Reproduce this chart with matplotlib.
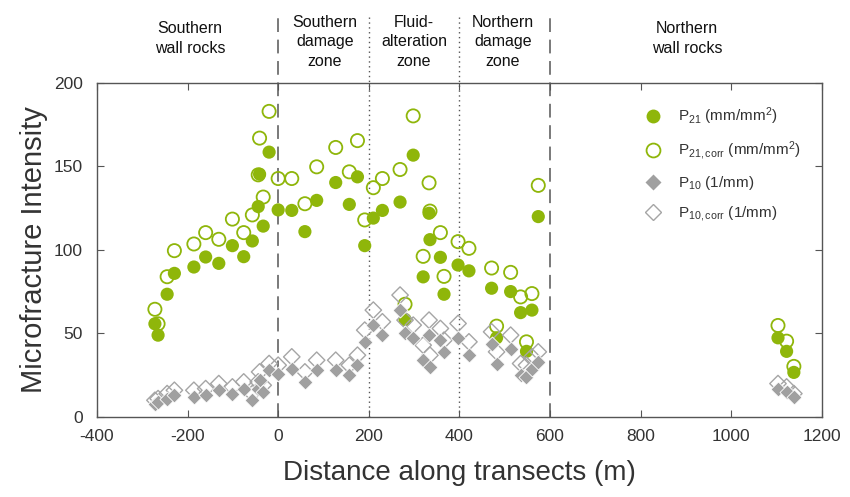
import numpy as np
import matplotlib.pyplot as plt
import matplotlib.transforms as mtransforms
from matplotlib.lines import Line2D

plt.rcParams['font.family'] = ['Liberation Sans', 'DejaVu Sans']
plt.rcParams['mathtext.fontset'] = 'custom'
plt.rcParams['mathtext.rm'] = 'Liberation Sans'
plt.rcParams['mathtext.it'] = 'Liberation Sans'
plt.rcParams['axes.unicode_minus'] = False

# distance of each sample along the transects (m)
distance = [-272, -265, -245, -229, -186, -160, -131, -101, -76, -57, -44, -41, -33, -20, 0,
            30, 59, 85, 127, 157, 175, 191, 210, 230, 269, 280, 298, 320, 333, 335, 358, 366, 397, 421,
            471, 482, 513, 535, 548, 560, 574,
            1103, 1122, 1138]

p21 = [55.8, 49, 73.5, 86, 89.8, 95.8, 92, 102.6, 96, 105.4, 126, 145.4, 114.3, 158.6, 124,
       123.7, 111, 129.7, 140.4, 127.3, 143.8, 102.6, 119.1, 123.7, 128.7, 58.4, 156.8, 83.9, 122, 106.2, 95.6, 73.5, 91, 87.5,
       77.1, 47.4, 75.1, 62.5, 39.3, 64, 120,
       47.4, 39.3, 26.7]

p21_corr = [64.5, 55.8, 84, 99.6, 103.6, 110.4, 106.4, 118.5, 110.4, 121, 145, 167, 131.7, 183, 142.8,
            142.8, 127.7, 149.8, 161.4, 146.8, 165.5, 118, 137.3, 142.8, 148.2, 67.5, 180.3, 96.2, 140.2, 123.3, 110.4, 84.2, 105, 101,
            89.2, 54.4, 86.6, 71.9, 45, 73.9, 138.7,
            54.8, 45.4, 30.3]

p10 = [8, 9, 11, 13, 12, 13, 16, 14, 17, 10, 17, 22, 15, 28, 26,
       29, 21, 28, 28, 25, 31, 45, 55, 49, 64, 50, 47, 34, 49, 30, 46, 39, 47, 37,
       44, 32, 41, 25, 24, 29, 33,
       17, 15, 12]

p10_corr = [10, 11, 14, 16, 16, 17, 20, 18, 21, 14, 21, 27, 19, 32, 31,
            36, 27, 34, 34, 31, 37, 52, 64, 57, 73, 58, 55, 43, 58, 37, 53, 46, 56, 45,
            51, 39, 49, 32, 31, 36, 39,
            20, 18, 14]

zones = ['Southern\nwall rocks', 'Southern\ndamage\nzone', 'Fluid-\nalteration\nzone',
         'Northern\ndamage\nzone', 'Northern\nwall rocks']
zone_centres = [-194, 103, 300, 496, 902]

green = '#8fb60a'
grey = '#a0a0a0'
txt = '#333333'

fig = plt.figure(figsize=(8.5, 4.97), dpi=100)
ax = fig.add_axes([0.114, 0.161, 0.853, 0.672])

ax.scatter(distance, p21, s=90, marker='o', facecolor=green, edgecolor='none', zorder=3)
ax.scatter(distance, p21_corr, s=90, marker='o', facecolor='none', edgecolor=green, linewidth=1.3, zorder=4)
ax.scatter(distance, p10_corr, s=70, marker='D', facecolor='none', edgecolor='#a5a5a5', linewidth=1.0, zorder=5)
ax.scatter(distance, p10, s=58, marker='D', facecolor=grey, edgecolor='white', linewidth=0.6, zorder=6)

ax.set_xlim(-400, 1200)
ax.set_ylim(0, 200)
ax.set_xticks(np.arange(-400, 1201, 200))
ax.set_yticks(np.arange(0, 201, 50))
ax.tick_params(direction='in', top=True, right=True, length=5, color='#555555',
               labelsize=12.5, labelcolor=txt)
ax.tick_params(axis='x', pad=9)
ax.tick_params(axis='y', pad=10)
for sp in ax.spines.values():
    sp.set_color('#555555')
    sp.set_linewidth(1.0)

ax.set_xlabel('Distance along transects (m)', fontsize=20, color=txt, labelpad=11)
ax.set_ylabel('Microfracture Intensity', fontsize=21, color=txt, labelpad=4)

# zone boundaries run up through the header area
trans = mtransforms.blended_transform_factory(ax.transData, ax.transAxes)
for xb in [0, 600]:
    ax.plot([xb, xb], [0, 1.204], transform=trans, clip_on=False, color='#555555',
            linewidth=1.1, dashes=(9, 5), zorder=2)
for xb in [200, 400]:
    ax.plot([xb, xb], [0, 1.204], transform=trans, clip_on=False, color='#555555',
            linewidth=1.0, dashes=(1, 2.5), zorder=2)

for label, xc in zip(zones, zone_centres):
    yc = 1.123 if label.count('\n') == 2 else 1.133
    ax.text(xc, yc, label, transform=trans, ha='center', va='center', fontsize=11.5,
            color='#111111', linespacing=1.35)

handles = [
    Line2D([], [], linestyle='none', marker='o', markersize=10, markerfacecolor=green, markeredgecolor='none'),
    Line2D([], [], linestyle='none', marker='o', markersize=10, markerfacecolor='none', markeredgecolor=green, markeredgewidth=1.3),
    Line2D([], [], linestyle='none', marker='D', markersize=8, markerfacecolor=grey, markeredgecolor='none'),
    Line2D([], [], linestyle='none', marker='D', markersize=8, markerfacecolor='none', markeredgecolor='#a5a5a5', markeredgewidth=1.0),
]
labels = [r'P$_{21}$ (mm/mm$^{2}$)', r'P$_{21,corr}$ (mm/mm$^{2}$)',
          r'P$_{10}$ (1/mm)', r'P$_{10,corr}$ (1/mm)']
leg = ax.legend(handles, labels, loc='upper right', bbox_to_anchor=(0.985, 0.965), frameon=False,
                fontsize=11, labelspacing=0.8, handletextpad=0.6, borderaxespad=0.3)
for t in leg.get_texts():
    t.set_color(txt)

fig.savefig('out.png', dpi=100)
